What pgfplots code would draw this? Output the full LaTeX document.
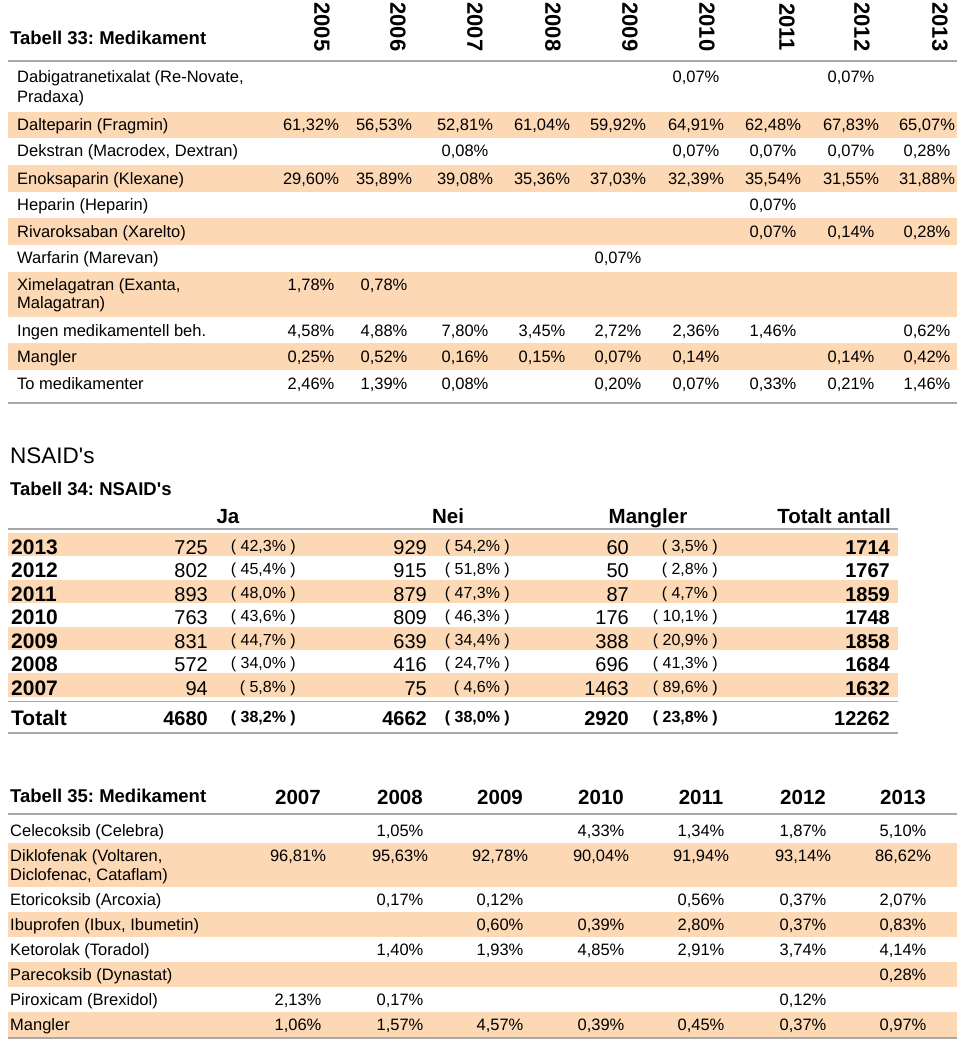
\documentclass[border=0pt]{standalone}
\usepackage{pgfplots}
\pgfplotsset{compat=1.18}
\usepackage{fontspec}
\setmainfont{Liberation Sans}[Ligatures=TeXOff]
\frenchspacing
\definecolor{peach}{RGB}{252,216,181}
\definecolor{rulegray}{RGB}{168,168,168}
\newcommand\fs[1]{\fontsize{#1}{#1}\selectfont}
% text helpers
\newcommand\tl[3]{\node[anchor=base west,inner sep=0,font=\fs{16.5}] at (axis cs:#1,#2) {#3};}
\newcommand\tc[3]{\node[anchor=base,inner sep=0,font=\fs{16.5}] at (axis cs:#1,#2) {#3};}
\newcommand\band[4]{\addplot[fill=peach,draw=none] coordinates {(#1,#3) (#2,#3) (#2,#4) (#1,#4)};}
\newcommand\hln[3]{\addplot[rulegray,line width=1.4pt] coordinates {(#1,#3) (#2,#3)};}
\begin{document}
\begin{tikzpicture}
\begin{axis}[x=1pt,y=1pt,xmin=0,xmax=960,ymin=0,ymax=1043,y dir=reverse,
  hide axis,clip=false,scale only axis]
\addplot[draw=none] coordinates {(0,0) (960,1043)};
% ---------------- Table 33 ----------------
\band{8}{957}{112}{138}
\band{8}{957}{165}{192}
\band{8}{957}{218}{245}
\band{8}{957}{272}{317}
\band{8}{957}{343}{370}
\hln{8}{957}{61}
\hln{8}{957}{403}
\node[anchor=base west,inner sep=0,font=\bfseries\fs{18.5}] at (axis cs:10,45) {Tabell 33: Medikament};
\foreach \xx/\yy in {322/2005,398/2006,475/2007,553/2008,630/2009,707/2010,787/2011,862/2012,940/2013}{
  \edef\tmp{\noexpand\node[rotate=-90,inner sep=0,font=\noexpand\bfseries\noexpand\fs{22}] at (axis cs:\xx,27) {\yy};}\tmp
}
\tl{17}{83}{Dabigatranetixalat (Re-Novate,}
\tl{17}{103}{Pradaxa)}
\tl{17}{131}{Dalteparin (Fragmin)}
\tl{17}{157}{Dekstran (Macrodex, Dextran)}
\tl{17}{184}{Enoksaparin (Klexane)}
\tl{17}{210}{Heparin (Heparin)}
\tl{17}{237}{Rivaroksaban (Xarelto)}
\tl{17}{263}{Warfarin (Marevan)}
\tl{17}{290}{Ximelagatran (Exanta,}
\tl{17}{308}{Malagatran)}
\tl{17}{336}{Ingen medikamentell beh.}
\tl{17}{362}{Mangler}
\tl{17}{389}{To medikamenter}
% Dabig
\tc{696}{83}{0,07\%}\tc{851}{83}{0,07\%}
% Dalteparin
\tc{311}{131}{61,32\%}\tc{384}{131}{56,53\%}\tc{465}{131}{52,81\%}\tc{542}{131}{61,04\%}\tc{618}{131}{59,92\%}\tc{696}{131}{64,91\%}\tc{773}{131}{62,48\%}\tc{851}{131}{67,83\%}\tc{927}{131}{65,07\%}
% Dekstran
\tc{465}{157}{0,08\%}\tc{696}{157}{0,07\%}\tc{773}{157}{0,07\%}\tc{851}{157}{0,07\%}\tc{927}{157}{0,28\%}
% Enoksaparin
\tc{311}{184}{29,60\%}\tc{384}{184}{35,89\%}\tc{465}{184}{39,08\%}\tc{542}{184}{35,36\%}\tc{618}{184}{37,03\%}\tc{696}{184}{32,39\%}\tc{773}{184}{35,54\%}\tc{851}{184}{31,55\%}\tc{927}{184}{31,88\%}
% Heparin
\tc{773}{210}{0,07\%}
% Rivaroksaban
\tc{773}{237}{0,07\%}\tc{851}{237}{0,14\%}\tc{927}{237}{0,28\%}
% Warfarin
\tc{618}{263}{0,07\%}
% Ximelagatran
\tc{311}{290}{1,78\%}\tc{384}{290}{0,78\%}
% Ingen
\tc{311}{336}{4,58\%}\tc{384}{336}{4,88\%}\tc{465}{336}{7,80\%}\tc{542}{336}{3,45\%}\tc{618}{336}{2,72\%}\tc{696}{336}{2,36\%}\tc{773}{336}{1,46\%}\tc{927}{336}{0,62\%}
% Mangler
\tc{311}{362}{0,25\%}\tc{384}{362}{0,52\%}\tc{465}{362}{0,16\%}\tc{542}{362}{0,15\%}\tc{618}{362}{0,07\%}\tc{696}{362}{0,14\%}\tc{851}{362}{0,14\%}\tc{927}{362}{0,42\%}
% To medikamenter
\tc{311}{389}{2,46\%}\tc{384}{389}{1,39\%}\tc{465}{389}{0,08\%}\tc{618}{389}{0,20\%}\tc{696}{389}{0,07\%}\tc{773}{389}{0,33\%}\tc{851}{389}{0,21\%}\tc{927}{389}{1,46\%}
% ---------------- Table 34 ----------------
\node[anchor=base west,inner sep=0,font=\fs{22.5}] at (axis cs:10,463) {NSAID's};
\node[anchor=base west,inner sep=0,font=\bfseries\fs{18.5}] at (axis cs:10,495) {Tabell 34: NSAID's};
\node[anchor=base,inner sep=0,font=\bfseries\fs{20.5}] at (axis cs:228,523) {Ja};
\node[anchor=base,inner sep=0,font=\bfseries\fs{20.5}] at (axis cs:448,523) {Nei};
\node[anchor=base,inner sep=0,font=\bfseries\fs{20.5}] at (axis cs:648,523) {Mangler};
\node[anchor=base east,inner sep=0,font=\bfseries\fs{20.5}] at (axis cs:891,523) {Totalt antall};
\band{8}{898}{533}{556}
\band{8}{898}{580}{603}
\band{8}{898}{627}{650}
\band{8}{898}{673}{697}
\hln{8}{898}{529}
\hln{8}{898}{701.5}
\hln{8}{898}{733}
\foreach \yy/\yr/\ja/\jp/\ne/\np/\ma/\mp/\tot in {
  554/2013/725/42{,}3/929/54{,}2/60/3{,}5/1714,
  577/2012/802/45{,}4/915/51{,}8/50/2{,}8/1767,
  601/2011/893/48{,}0/879/47{,}3/87/4{,}7/1859,
  624/2010/763/43{,}6/809/46{,}3/176/10{,}1/1748,
  648/2009/831/44{,}7/639/34{,}4/388/20{,}9/1858,
  671/2008/572/34{,}0/416/24{,}7/696/41{,}3/1684,
  695/2007/94/5{,}8/75/4{,}6/1463/89{,}6/1632}{
  \edef\tmp{%
  \noexpand\node[anchor=base west,inner sep=0,font=\noexpand\bfseries\noexpand\fs{21}] at (axis cs:11,\yy) {\yr};
  \noexpand\node[anchor=base east,inner sep=0,font=\noexpand\fs{20}] at (axis cs:208,\yy) {\ja};
  \noexpand\node[anchor=base east,inner sep=0,font=\noexpand\fs{16}] at (axis cs:296,\yy-3) {( \jp\noexpand\% )};
  \noexpand\node[anchor=base east,inner sep=0,font=\noexpand\fs{20}] at (axis cs:427,\yy) {\ne};
  \noexpand\node[anchor=base east,inner sep=0,font=\noexpand\fs{16}] at (axis cs:510,\yy-3) {( \np\noexpand\% )};
  \noexpand\node[anchor=base east,inner sep=0,font=\noexpand\fs{20}] at (axis cs:629,\yy) {\ma};
  \noexpand\node[anchor=base east,inner sep=0,font=\noexpand\fs{16}] at (axis cs:718,\yy-3) {( \mp\noexpand\% )};
  \noexpand\node[anchor=base east,inner sep=0,font=\noexpand\bfseries\noexpand\fs{20}] at (axis cs:890,\yy) {\tot};
  }\tmp
}
\node[anchor=base west,inner sep=0,font=\bfseries\fs{21}] at (axis cs:11,725) {Totalt};
\node[anchor=base east,inner sep=0,font=\bfseries\fs{20}] at (axis cs:208,725) {4680};
\node[anchor=base east,inner sep=0,font=\bfseries\fs{16}] at (axis cs:296,722) {( 38,2\% )};
\node[anchor=base east,inner sep=0,font=\bfseries\fs{20}] at (axis cs:427,725) {4662};
\node[anchor=base east,inner sep=0,font=\bfseries\fs{16}] at (axis cs:510,722) {( 38,0\% )};
\node[anchor=base east,inner sep=0,font=\bfseries\fs{20}] at (axis cs:629,725) {2920};
\node[anchor=base east,inner sep=0,font=\bfseries\fs{16}] at (axis cs:718,722) {( 23,8\% )};
\node[anchor=base east,inner sep=0,font=\bfseries\fs{20}] at (axis cs:890,725) {12262};
% ---------------- Table 35 ----------------
\node[anchor=base west,inner sep=0,font=\bfseries\fs{18.5}] at (axis cs:10,802) {Tabell 35: Medikament};
\foreach \xx/\yr in {298/2007,400/2008,500/2009,601/2010,701/2011,803/2012,903/2013}{
  \edef\tmp{\noexpand\node[anchor=base,inner sep=0,font=\noexpand\bfseries\noexpand\fs{20.5}] at (axis cs:\xx,804) {\yr};}\tmp
}
\band{8}{957}{843}{887}
\band{8}{957}{912}{937}
\band{8}{957}{962}{987}
\band{8}{957}{1012}{1037}
\hln{8}{957}{814}
\hln{8}{957}{1038}
\tl{10}{836}{Celecoksib (Celebra)}
\tl{10}{861}{Diklofenak (Voltaren,}
\tl{10}{880}{Diclofenac, Cataflam)}
\tl{10}{905}{Etoricoksib (Arcoxia)}
\tl{10}{930}{Ibuprofen (Ibux, Ibumetin)}
\tl{10}{955}{Ketorolak (Toradol)}
\tl{10}{980}{Parecoksib (Dynastat)}
\tl{10}{1005}{Piroxicam (Brexidol)}
\tl{10}{1030}{Mangler}
% Celecoksib
\tc{400}{836}{1,05\%}\tc{601}{836}{4,33\%}\tc{701}{836}{1,34\%}\tc{803}{836}{1,87\%}\tc{903}{836}{5,10\%}
% Diklofenak
\tc{298}{861}{96,81\%}\tc{400}{861}{95,63\%}\tc{500}{861}{92,78\%}\tc{601}{861}{90,04\%}\tc{701}{861}{91,94\%}\tc{803}{861}{93,14\%}\tc{903}{861}{86,62\%}
% Etoricoksib
\tc{400}{905}{0,17\%}\tc{500}{905}{0,12\%}\tc{701}{905}{0,56\%}\tc{803}{905}{0,37\%}\tc{903}{905}{2,07\%}
% Ibuprofen
\tc{500}{930}{0,60\%}\tc{601}{930}{0,39\%}\tc{701}{930}{2,80\%}\tc{803}{930}{0,37\%}\tc{903}{930}{0,83\%}
% Ketorolak
\tc{400}{955}{1,40\%}\tc{500}{955}{1,93\%}\tc{601}{955}{4,85\%}\tc{701}{955}{2,91\%}\tc{803}{955}{3,74\%}\tc{903}{955}{4,14\%}
% Parecoksib
\tc{903}{980}{0,28\%}
% Piroxicam
\tc{298}{1005}{2,13\%}\tc{400}{1005}{0,17\%}\tc{803}{1005}{0,12\%}
% Mangler
\tc{298}{1030}{1,06\%}\tc{400}{1030}{1,57\%}\tc{500}{1030}{4,57\%}\tc{601}{1030}{0,39\%}\tc{701}{1030}{0,45\%}\tc{803}{1030}{0,37\%}\tc{903}{1030}{0,97\%}
\end{axis}
\end{tikzpicture}
\end{document}
